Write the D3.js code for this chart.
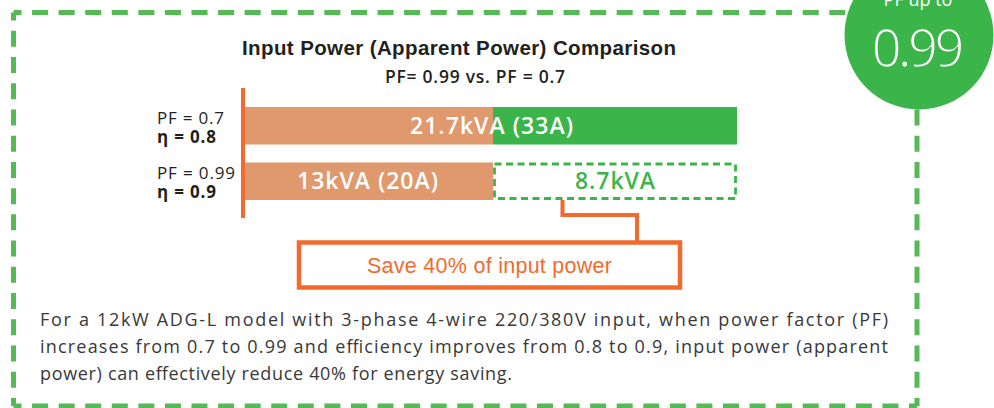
<!DOCTYPE html>
<html>
<head>
<meta charset="utf-8">
<script src="https://cdn.jsdelivr.net/npm/d3@7"></script>
<style>
  html, body { margin: 0; padding: 0; background: #ffffff; }
  svg { display: block; }
</style>
</head>
<body>
<div id="chart"></div>
<script>
// data
var rowLabels = ["PF = 0.7", "PF = 0.99"];
var effLabels = ["η = 0.8", "η = 0.9"];
var baseValues = [13, 13];        // kVA still drawn
var extraValues = [8.7, 8.7];     // kVA on top (row 1 used, row 2 saved)
var extraSaved = [false, true];
var barLabels = ["21.7kVA (33A)", "13kVA (20A)"];
var savedLabel = "8.7kVA";
var titleText = "Input Power (Apparent Power) Comparison";
var subtitleText = "PF= 0.99 vs. PF = 0.7";
var calloutText = "Save 40% of input power";
var badgeTop = "PF up to";
var badgeValue = "0.99";
var noteLines = [
  "For a 12kW ADG-L model with 3-phase 4-wire 220/380V input, when power factor (PF)",
  "increases from 0.7 to 0.99 and efficiency improves from 0.8 to 0.9, input power (apparent",
  "power) can effectively reduce 40% for energy saving."
];

var W = 994, H = 408;
var green = "#3bb54a", borderGreen = "#55b955", orange = "#f26a2c", tan = "#e0996c";
var sansUI = "'Open Sans', 'Noto Sans', sans-serif";
var sansArial = "'Liberation Sans', Arial, sans-serif";

var svg = d3.select("#chart").append("svg")
  .attr("width", W).attr("height", H);

// squeeze/stretch a text to the width measured on the picture
function fit(sel, w) {
  sel.attr("textLength", w).attr("lengthAdjust", "spacing");
}

// dashed frame, one line per side so every corner gets a dash
var frame = {x0: 13.5, y0: 12.5, x1: 917, y1: 406};
var sides = [
  [frame.x0, frame.y0, frame.x1, frame.y0],
  [frame.x1, frame.y0, frame.x1, frame.y1],
  [frame.x1, frame.y1, frame.x0, frame.y1],
  [frame.x0, frame.y1, frame.x0, frame.y0]
];
sides.forEach(function (s) {
  var len = Math.hypot(s[2] - s[0], s[3] - s[1]);
  var period = len / Math.round(len / 26.7);
  svg.append("line")
    .attr("x1", s[0]).attr("y1", s[1]).attr("x2", s[2]).attr("y2", s[3])
    .attr("stroke", borderGreen).attr("stroke-width", 5)
    .attr("stroke-dasharray", "16 " + (period - 16))
    .attr("stroke-dashoffset", 8);
});

// scales: the picture is not to scale, so a piecewise scale keeps both parts even
var total = baseValues[0] + extraValues[0];
var x = d3.scaleLinear().domain([0, baseValues[0], total]).range([245, 493, 737]);
var y = d3.scaleBand().domain(rowLabels).range([107, 200]).paddingInner(0.324);

// titles
svg.append("text")
  .attr("x", 242).attr("y", 55)
  .attr("font-family", sansArial).attr("font-weight", "bold").attr("font-size", 20.5)
  .attr("fill", "#231f20")
  .text(titleText)
  .call(fit, 434);

svg.append("text")
  .attr("x", 385).attr("y", 83)
  .attr("font-family", sansUI).attr("font-weight", 600).attr("font-size", 17.5)
  .attr("fill", "#231f20")
  .text(subtitleText)
  .call(fit, 180);

// bars
var rows = svg.selectAll("g.row")
  .data(rowLabels)
  .enter().append("g").attr("class", "row");

rows.append("rect")
  .attr("x", x(0))
  .attr("y", function (d) { return y(d); })
  .attr("width", function (d, i) { return x(baseValues[i]) - x(0); })
  .attr("height", y.bandwidth())
  .attr("fill", tan);

rows.append("rect")
  .attr("x", function (d, i) { return x(baseValues[i]) + (extraSaved[i] ? 1.5 : 0); })
  .attr("y", function (d, i) { return y(d) + (extraSaved[i] ? 1.5 : 0); })
  .attr("width", function (d, i) {
    return x(baseValues[i] + extraValues[i]) - x(baseValues[i]) - (extraSaved[i] ? 3 : 0);
  })
  .attr("height", function (d, i) { return y.bandwidth() - (extraSaved[i] ? 3 : 0); })
  .attr("fill", function (d, i) { return extraSaved[i] ? "none" : green; })
  .attr("stroke", function (d, i) { return extraSaved[i] ? green : "none"; })
  .attr("stroke-width", 2.8)
  .attr("stroke-dasharray", "7 4.5");

// value labels
var labelW = [163, 141];
rows.append("text")
  .attr("x", function (d, i) {
    return extraSaved[i] ? (x(0) + x(baseValues[i])) / 2 - 1.5 : (x(0) + x(baseValues[i] + extraValues[i])) / 2 + 0.5;
  })
  .attr("y", function (d) { return y(d) + y.bandwidth() / 2 + 8; })
  .attr("text-anchor", "middle")
  .attr("font-family", sansUI).attr("font-weight", 600).attr("font-size", 23)
  .attr("fill", "#ffffff")
  .attr("textLength", function (d, i) { return labelW[i]; })
  .attr("lengthAdjust", "spacing")
  .text(function (d, i) { return barLabels[i]; });

var savedRow = extraSaved.indexOf(true);
svg.append("text")
  .attr("x", (x(baseValues[savedRow]) + x(baseValues[savedRow] + extraValues[savedRow])) / 2)
  .attr("y", y(rowLabels[savedRow]) + y.bandwidth() / 2 + 8)
  .attr("text-anchor", "middle")
  .attr("font-family", sansUI).attr("font-weight", 600).attr("font-size", 23)
  .attr("fill", green)
  .text(savedLabel)
  .call(fit, 80);

// row labels
var pfW = [67, 78], etaW = [59, 59];
rows.append("text")
  .attr("x", 157)
  .attr("y", function (d) { return y(d) + 16.5; })
  .attr("font-family", sansUI).attr("font-size", 17)
  .attr("fill", "#231f20")
  .attr("textLength", function (d, i) { return pfW[i]; })
  .attr("lengthAdjust", "spacing")
  .text(function (d) { return d; });

rows.append("text")
  .attr("x", 157)
  .attr("y", function (d) { return y(d) + 35.5; })
  .attr("font-family", sansUI).attr("font-weight", "bold").attr("font-size", 17)
  .attr("fill", "#231f20")
  .attr("textLength", function (d, i) { return etaW[i]; })
  .attr("lengthAdjust", "spacing")
  .text(function (d, i) { return effLabels[i]; });

// orange baseline
svg.append("line")
  .attr("x1", x(0) - 2).attr("x2", x(0) - 2)
  .attr("y1", 88).attr("y2", 218)
  .attr("stroke", orange).attr("stroke-width", 4);

// callout connector and box
var cx0 = 562.5, cy0 = y(rowLabels[savedRow]) + y.bandwidth();
svg.append("path")
  .attr("d", d3.line()([[cx0, cy0], [cx0, 215], [637, 215], [637, 242.5]]))
  .attr("fill", "none").attr("stroke", orange).attr("stroke-width", 4);

svg.append("rect")
  .attr("x", 299).attr("y", 242.5)
  .attr("width", 381).attr("height", 45)
  .attr("fill", "#ffffff").attr("stroke", orange).attr("stroke-width", 4.5);

svg.append("text")
  .attr("x", 367).attr("y", 273)
  .attr("font-family", sansArial).attr("font-size", 21.5)
  .attr("fill", orange)
  .text(calloutText)
  .call(fit, 245);

// note paragraph, first two lines justified
var noteW = [848, 848, 472];
svg.selectAll("text.note")
  .data(noteLines)
  .enter().append("text")
  .attr("class", "note")
  .attr("x", 40)
  .attr("y", function (d, i) { return 326 + i * 27; })
  .attr("font-family", sansUI).attr("font-size", 18)
  .attr("fill", "#383838")
  .attr("textLength", function (d, i) { return noteW[i]; })
  .attr("lengthAdjust", "spacing")
  .text(function (d) { return d; });

// badge
svg.append("circle")
  .attr("cx", 919).attr("cy", 35).attr("r", 74.5)
  .attr("fill", green);

svg.append("text")
  .attr("x", 918).attr("y", 6)
  .attr("text-anchor", "middle")
  .attr("font-family", sansUI).attr("font-size", 18)
  .attr("fill", "#ffffff")
  .text(badgeTop);

// green outline eats into the glyphs so the big number reads as a light weight
svg.append("text")
  .attr("x", 918).attr("y", 66.5)
  .attr("text-anchor", "middle")
  .attr("font-family", sansUI).attr("font-size", 53)
  .attr("fill", "#ffffff")
  .attr("stroke", green).attr("stroke-width", 1.6)
  .text(badgeValue)
  .call(fit, 93);
</script>
</body>
</html>
